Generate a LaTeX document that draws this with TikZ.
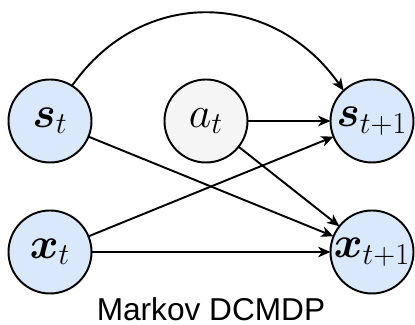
\documentclass[tikz,border=0pt]{standalone}
\usepackage{amsmath}
\usepackage{amssymb}
\usepackage{fontspec}
\setmainfont{Liberation Sans}
\usepackage{tikz}
\usetikzlibrary{
	arrows.meta,
	backgrounds,
	}
\definecolor{stateblue}{HTML}{DAE8FC}
\definecolor{actiongray}{HTML}{F5F5F5}

\begin{document}
\begin{tikzpicture}[var/.style={draw,line width=1.1pt,shape=circle,minimum size=1.66cm,inner sep=0pt,outer sep=0pt,fill=stateblue,font=\fontsize{23}{27}\selectfont},
	link/.style={line width=1.1pt,-{Stealth[length=7pt,width=6pt,inset=2pt]}}]
\useasboundingbox (0,0) rectangle (8.3,6.5);
\node[var] (st) at (1.0,4.08) {$\boldsymbol{s}_t$};
\node[var] (xt) at (1.0,1.46) {$\boldsymbol{x}_t$};
\node[var,fill=actiongray] (at) at (4.12,4.08) {$a_t$};
\node[var] (st1) at (7.44,4.08) {$\boldsymbol{s}_{t+1}$};
\node[var] (xt1) at (7.44,1.46) {$\boldsymbol{x}_{t+1}$};
\begin{scope}[on background layer]
\draw[link] (st.58) to[out=55,in=125,looseness=1.15] (st1.133);
\draw[link] (at) -- (st1);
\draw[link] (at) -- (xt1);
\draw[link] (st) -- (xt1);
\draw[link] (xt) -- (st1);
\draw[link] (xt) -- (xt1);
\end{scope}
\node[inner sep=0pt,anchor=base] (title) at (4.22,0.09) {\fontsize{18}{22}\selectfont Markov DCMDP};
\end{tikzpicture}
\end{document}
